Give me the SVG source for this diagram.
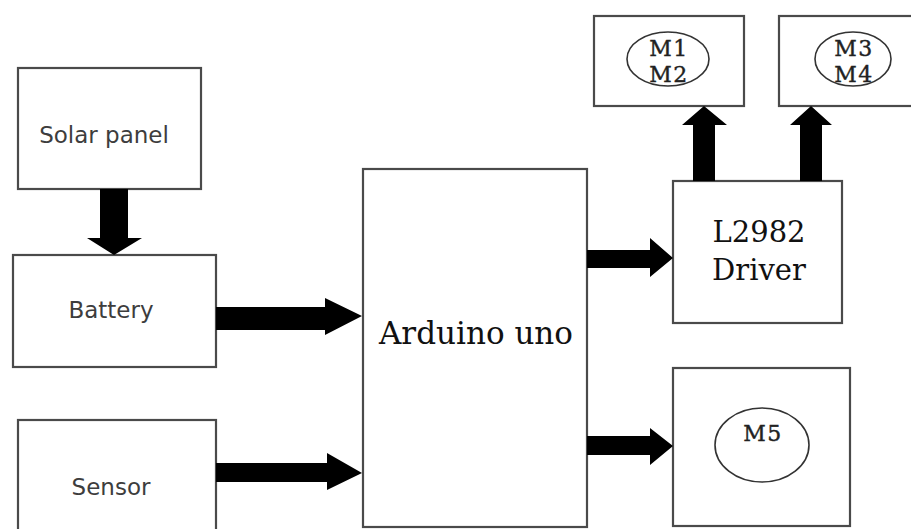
<svg xmlns="http://www.w3.org/2000/svg" width="911" height="529" viewBox="0 0 911 529">
<style>
.box{fill:#fff;stroke:#4a4a4a;stroke-width:2.2}
.ell{fill:#fff;stroke:#333;stroke-width:1.6}
.arr{fill:#000}
.sans{font-family:"DejaVu Sans","Liberation Sans",sans-serif;font-size:23px;fill:#3d3d3d;text-anchor:middle}
.serif{font-family:"DejaVu Serif","Liberation Serif",serif;fill:#111;text-anchor:middle}
.mt{font-family:"DejaVu Serif","Liberation Serif",serif;font-size:22px;letter-spacing:1.5px;fill:#222;stroke:#222;stroke-width:0.4;text-anchor:middle}
</style>
<rect width="911" height="529" fill="#fff"/>
<g id="solar"><rect class="box" x="18" y="68" width="183" height="121"/><text class="sans" x="104" y="143" font-size="24">Solar panel</text></g>
<g id="battery"><rect class="box" x="13" y="255" width="203" height="112"/><text class="sans" x="111" y="318">Battery</text></g>
<g id="sensor"><rect class="box" x="18" y="420" width="198" height="115"/><text class="sans" x="111" y="495" font-size="24">Sensor</text></g>
<g id="arduino"><rect class="box" x="363" y="169" width="224" height="358"/><text class="serif" x="476" y="344" font-size="31">Arduino uno</text></g>
<g id="driver"><rect class="box" x="673" y="181" width="169" height="142"/><text class="serif" x="759" y="242" font-size="29">L2982</text><text class="serif" x="759" y="280" font-size="29">Driver</text></g>
<g id="m5"><rect class="box" x="673" y="368" width="177" height="158"/><ellipse class="ell" cx="762" cy="445" rx="47" ry="37"/><text class="mt" x="763" y="441">M5</text></g>
<g id="m12"><rect class="box" x="594" y="16" width="150" height="90"/><ellipse class="ell" cx="668" cy="59" rx="41" ry="27"/><text class="mt" x="669" y="56">M1</text><text class="mt" x="669" y="82">M2</text></g>
<g id="m34"><rect class="box" x="779" y="16" width="140" height="90"/><ellipse class="ell" cx="853" cy="59" rx="38" ry="27"/><text class="mt" x="854" y="56">M3</text><text class="mt" x="854" y="82">M4</text></g>
<g id="connectors">
<polygon class="arr" points="100,189 128,189 128,238 142,238 114,255 87,238 100,238"/>
<polygon class="arr" points="216,307 325,307 325,298 362,316 325,335 325,330 216,330"/>
<polygon class="arr" points="216,463 327,463 327,453 362,473 327,490 327,482 216,482"/>
<polygon class="arr" points="587,250 650,250 650,238 673,258 650,277 650,268 587,268"/>
<polygon class="arr" points="587,436 650,436 650,428 673,446 650,465 650,455 587,455"/>
<polygon class="arr" points="693,181 693,125 682,125 704,106 727,125 715,125 715,181"/>
<polygon class="arr" points="800,181 800,125 790,125 811,106 832,125 822,125 822,181"/>
</g>
</svg>
